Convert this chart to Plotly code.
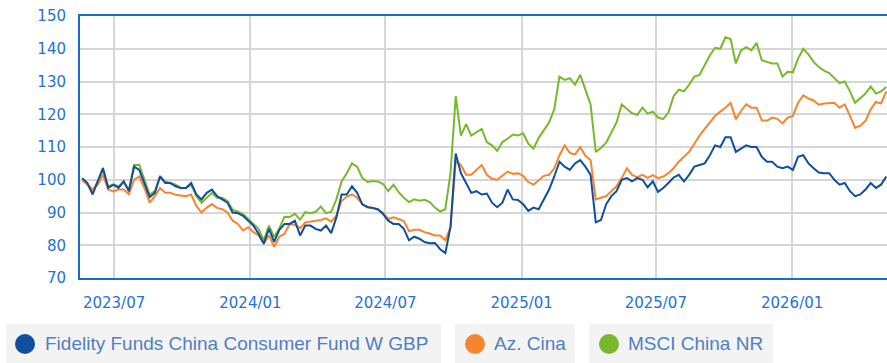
import datetime as dt
import plotly.graph_objects as go

# Weekly observations, rebased to 100 at the start date
start_date = dt.date(2023, 5, 19)

fund_values = [
    100.5, 99, 95.5, 99.5, 103.6, 97.5, 98.5, 97.5, 99.5, 96.5,
    104, 103, 99, 94.7, 96, 101, 99, 99, 98, 97.5,
    97.5, 99, 95.5, 94, 96, 97, 95, 94, 93, 90,
    89.8, 89, 87.5, 86, 83.5, 80.5, 85, 81, 84.7, 86.5,
    86.5, 87.5, 83, 86, 86, 85, 84.5, 86, 83.7, 88.5,
    95.5, 95.5, 98, 96, 92.5, 91.7, 91.4, 91, 89.5, 87.5,
    86.5, 86.5, 85, 81.5, 82.6, 82, 81, 80.6, 80.7, 78.8,
    77.6, 85.6, 108, 102, 99, 96, 96.5, 95.5, 95.8, 93,
    91.6, 93, 97, 94, 93.8, 92.5, 90.5, 91.5, 91, 94,
    97, 101, 105.5, 104, 103, 105, 106, 104, 101.5, 87,
    87.7, 92.5, 95, 96.5, 100, 100.5, 99.5, 100.5, 100, 97.7,
    99.5, 96.3, 97.5, 99, 100.7, 101.5, 99.5, 101.5, 104, 104.5,
    105, 107.5, 110.5, 110, 113, 113, 108.5, 109.5, 110.5, 110,
    110, 107, 105.5, 105.5, 104, 103.5, 104, 103, 107, 107.5,
    105, 103.5, 102.2, 102, 102, 100, 98.5, 99, 96.5, 95,
    95.5, 97, 99, 97.5, 98.5, 101,
]

sector_values = [
    100, 98.4, 97, 98.5, 101.5, 97, 96.4, 97, 97, 95.6,
    100, 101, 97.4, 93, 95, 97.5, 96, 96, 95.4, 95.2,
    95, 95.5, 92, 90, 91.5, 92.5, 91.4, 91, 90, 87.5,
    86.5, 84.5, 85.5, 84, 83, 80.5, 83, 79.5, 82.6, 83.5,
    86.5, 86.2, 85.2, 87, 87.2, 87.6, 87.7, 88.2, 87.2, 89,
    93.5, 94.8, 95.5, 94.5, 92.5, 91.5, 91.4, 90.8, 90, 88,
    88.5, 88, 87.4, 84.3, 84.7, 84.7, 84, 83.6, 83, 83,
    81.5, 85.6, 105.5, 104.5, 101.5, 101.5, 103, 104.5, 101.5, 100.3,
    100, 101.2, 102.5, 101.8, 102, 101.2, 99.3, 98.5, 100, 101.2,
    101.5, 103.5, 107.5, 110.5, 108.2, 107.7, 110, 107.3, 106, 94,
    94.5, 95, 96.5, 98, 100.5, 103.5, 101.5, 100.8, 101.5, 100.6,
    101.4, 100.5, 101, 102, 103.5, 105.5, 107, 108.5, 111, 113.5,
    115.5, 117.5, 119.5, 120.8, 122, 123.5, 118.5, 121, 123, 122,
    122, 118.2, 118, 119, 118.6, 117.2, 119, 119.5, 123.5, 125.8,
    124.8, 124.2, 122.9, 123.3, 123.3, 123.5, 122, 123, 119.5, 115.8,
    116.5, 118, 121.5, 123.8, 123.3, 127,
]

index_values = [
    100, 98.5, 96.5, 99.5, 103, 98, 98.5, 98, 99.3, 97,
    104.5, 104.6, 100, 95.5, 96.5, 101, 99.5, 99, 98.5, 97.5,
    97.5, 98.5, 95, 93, 94.5, 96, 94.5, 94.5, 93.5, 90.8,
    90.3, 89.5, 88, 86.5, 85, 81.5, 86, 82.5, 85.2, 88.7,
    88.6, 89.6, 87.8, 90.1, 89.8, 90.2, 91.8, 89.8, 90.2, 94,
    99.5, 102, 105, 104, 100.5, 99.3, 99.6, 99.5, 98.7, 96.5,
    98.5, 96.2, 94.5, 93.2, 94, 93.6, 93.9, 93.2, 91.5, 90.3,
    91, 102, 125.5, 113.5, 117, 113.5, 114.5, 115.5, 111.5, 110.5,
    108.8, 111.5, 112.5, 113.8, 113.5, 114.2, 111, 109.5, 112.8, 115,
    117.5, 121.5, 131.5, 130.5, 131, 129, 132, 127.5, 123, 108.5,
    109.7, 111.3, 114.3, 117.5, 123, 121.5, 120.3, 119.8, 122, 120.2,
    120.8, 119, 118.5, 120.5, 125.5, 127.5, 127, 129, 131.5, 132,
    135, 138, 140.3, 140, 143.5, 143, 135.5, 139.5, 140.5, 139.5,
    141.8, 136.5, 136, 135.5, 135.5, 131.5, 133, 132.8, 137, 140,
    138.3, 136, 134.4, 133.3, 132.6, 131.2, 129.5, 130, 127, 123.5,
    125, 126.3, 128.5, 126.3, 127, 128.3,
]

dates = [start_date + dt.timedelta(days=7 * i) for i in range(len(fund_values))]

series_names = ["Fidelity Funds China Consumer Fund W GBP", "Az. Cina", "MSCI China NR"]
series_colors = ["#0f4f9e", "#f7842f", "#78b92b"]

y_ticks = [70, 80, 90, 100, 110, 120, 130, 140, 150]
x_ticks = ["2023-07-01", "2024-01-01", "2024-07-01", "2025-01-01", "2025-07-01", "2026-01-01"]
x_tick_labels = ["2023/07", "2024/01", "2024/07", "2025/01", "2025/07", "2026/01"]

W, H = 887, 363
ML, MT, MB, MR = 80, 16, 85, 0
PW, PH = W - ML - MR, H - MT - MB

fig = go.Figure()
# draw the index first so the fund line sits on top
for vals, name, col in [
    (index_values, series_names[2], series_colors[2]),
    (sector_values, series_names[1], series_colors[1]),
    (fund_values, series_names[0], series_colors[0]),
]:
    fig.add_trace(go.Scatter(
        x=dates, y=vals, mode="lines", name=name,
        line=dict(color=col, width=2), showlegend=False,
    ))

axis_blue = "#1b6ad3"
tick_blue = "#2472d4"

fig.update_layout(
    width=W, height=H,
    margin=dict(l=ML, r=MR, t=MT, b=MB, pad=0),
    paper_bgcolor="white", plot_bgcolor="white",
    font=dict(family="DejaVu Sans, Verdana, sans-serif", size=15, color=tick_blue),
    xaxis=dict(
        range=["2023-05-16", "2026-05-09"],
        tickvals=x_ticks, ticktext=x_tick_labels,
        showgrid=True, gridcolor="#d6d6d6", gridwidth=2,
        showline=True, linecolor=axis_blue, linewidth=2, mirror=True,
        ticks="", ticklabelstandoff=10, zeroline=False,
    ),
    yaxis=dict(
        range=[70, 150], tickvals=y_ticks,
        showgrid=True, gridcolor="#d6d6d6", gridwidth=2,
        showline=True, linecolor=axis_blue, linewidth=2, mirror=False,
        ticks="", ticklabelstandoff=9, zeroline=False,
    ),
)


def px_x(p):
    return (p - ML) / PW


def px_y(p):
    return (H - MB - p) / PH


# legend chips: grey box, coloured dot and label
chips = [
    (6, 441, 25, 43),
    (455, 575, 475, 492),
    (589, 773, 609, 626),
]
for (x0, x1, cx, tx), name, col in zip(chips, series_names, series_colors):
    fig.add_shape(type="rect", xref="paper", yref="paper",
                  x0=px_x(x0), x1=px_x(x1), y0=px_y(366), y1=px_y(324),
                  fillcolor="#f3f3f3", line=dict(width=0), layer="below")
    fig.add_shape(type="circle", xref="paper", yref="paper",
                  x0=px_x(cx - 10), x1=px_x(cx + 10), y0=px_y(354), y1=px_y(334),
                  fillcolor=col, line=dict(width=0))
    fig.add_annotation(xref="paper", yref="paper", x=px_x(tx), y=px_y(344),
                       xanchor="left", yanchor="middle", showarrow=False,
                       text=name,
                       font=dict(family="Liberation Sans, Arial, sans-serif",
                                 size=19, color="#5080bf"))

fig.write_html("out.html")
